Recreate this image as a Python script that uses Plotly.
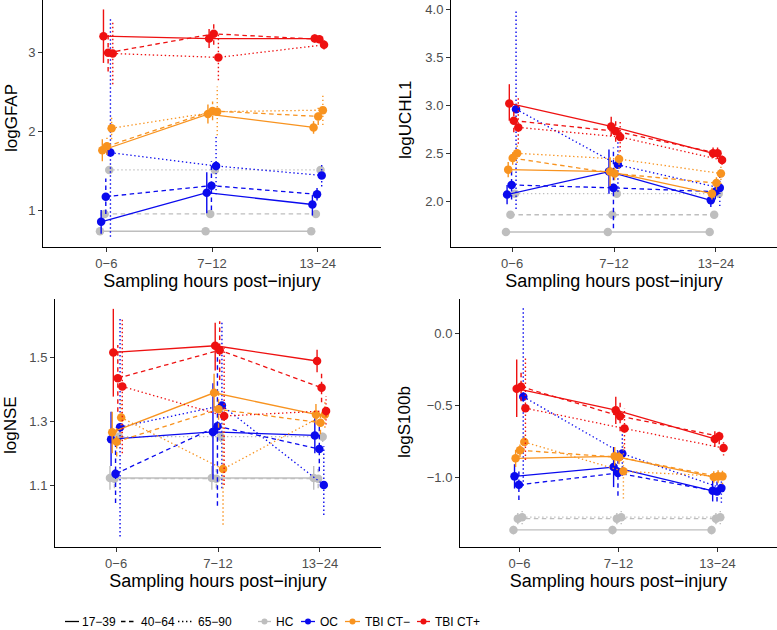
import plotly.graph_objects as go

TIMEPOINTS = ["0−6", "7−12", "13−24"]
AGE_GROUPS = ["17−39", "40−64", "65−90"]
GROUPS = ["HC", "OC", "TBI CT−", "TBI CT+"]
BIOMARKERS = ["logGFAP", "logUCHL1", "logNSE", "logS100b"]

# values indexed [group][age group][time point]
GFAP_MEAN = [
    [[0.73, 0.73, 0.73], [0.95, 0.95, 0.95], [1.51, 1.51, 1.51]],
    [[0.85, 1.22, 1.07], [1.17, 1.31, 1.20], [1.73, 1.56, 1.44]],
    [[1.76, 2.22, 2.05], [1.81, 2.26, 2.19], [2.04, 2.25, 2.27]],
    [[3.21, 3.18, 3.18], [3.00, 3.24, 3.17], [2.99, 2.94, 3.10]],
]
GFAP_LO = [
    [[0.69, 0.69, 0.69], [0.90, 0.90, 0.90], [1.48, 1.48, 1.48]],
    [[0.70, 0.96, 0.93], [0.95, 1.00, 1.12], [0.66, 1.20, 1.30]],
    [[1.62, 2.10, 1.97], [1.70, 2.14, 2.08], [1.90, 1.95, 2.08]],
    [[2.87, 3.06, 3.13], [2.76, 3.10, 3.12], [2.60, 2.65, 3.04]],
]
GFAP_HI = [
    [[0.77, 0.77, 0.77], [1.00, 1.00, 1.00], [1.54, 1.54, 1.54]],
    [[1.00, 1.48, 1.19], [1.40, 1.62, 1.30], [3.44, 1.95, 1.60]],
    [[1.90, 2.34, 2.13], [1.92, 2.38, 2.30], [2.18, 2.57, 2.46]],
    [[3.55, 3.30, 3.23], [3.24, 3.38, 3.22], [3.38, 3.23, 3.16]],
]

UCHL1_MEAN = [
    [[1.68, 1.68, 1.68], [1.86, 1.86, 1.86], [2.08, 2.08, 2.08]],
    [[2.07, 2.31, 2.01], [2.17, 2.14, 2.10], [2.96, 2.38, 2.14]],
    [[2.33, 2.31, 2.08], [2.45, 2.29, 2.19], [2.50, 2.44, 2.29]],
    [[3.02, 2.78, 2.50], [2.84, 2.73, 2.50], [2.77, 2.67, 2.43]],
]
UCHL1_LO = [
    [[1.65, 1.65, 1.65], [1.82, 1.82, 1.82], [2.05, 2.05, 2.05]],
    [[1.97, 2.08, 1.94], [2.02, 1.72, 2.02], [1.92, 2.10, 1.95]],
    [[2.25, 2.16, 2.02], [2.38, 2.22, 2.12], [2.40, 2.34, 2.18]],
    [[2.84, 2.68, 2.45], [2.72, 2.62, 2.44], [2.60, 2.52, 2.38]],
]
UCHL1_HI = [
    [[1.71, 1.71, 1.71], [1.90, 1.90, 1.90], [2.11, 2.11, 2.11]],
    [[2.17, 2.54, 2.08], [2.32, 2.56, 2.18], [3.99, 2.66, 2.33]],
    [[2.41, 2.46, 2.14], [2.52, 2.36, 2.26], [2.60, 2.54, 2.40]],
    [[3.22, 2.88, 2.56], [2.96, 2.86, 2.56], [3.10, 2.84, 2.48]],
]

NSE_MEAN = [
    [[1.122, 1.122, 1.122], [1.120, 1.120, 1.120], [1.252, 1.252, 1.252]],
    [[1.244, 1.267, 1.256], [1.135, 1.285, 1.213], [1.282, 1.350, 1.100]],
    [[1.266, 1.390, 1.322], [1.236, 1.338, 1.296], [1.312, 1.150, 1.322]],
    [[1.517, 1.538, 1.490], [1.436, 1.524, 1.406], [1.410, 1.317, 1.333]],
]
NSE_LO = [
    [[1.085, 1.085, 1.085], [1.090, 1.090, 1.090], [1.235, 1.235, 1.235]],
    [[1.160, 1.117, 1.200], [1.043, 1.035, 1.143], [0.938, 1.090, 1.006]],
    [[1.200, 1.330, 1.290], [1.190, 1.280, 1.260], [1.250, 0.975, 1.280]],
    [[1.378, 1.460, 1.455], [1.330, 1.430, 1.360], [1.200, 1.100, 1.290]],
]
NSE_HI = [
    [[1.160, 1.160, 1.160], [1.150, 1.150, 1.150], [1.270, 1.270, 1.270]],
    [[1.330, 1.420, 1.310], [1.230, 1.535, 1.283], [1.627, 1.612, 1.222]],
    [[1.330, 1.450, 1.355], [1.280, 1.400, 1.330], [1.370, 1.320, 1.360]],
    [[1.654, 1.610, 1.525], [1.540, 1.615, 1.450], [1.620, 1.530, 1.380]],
]

S100B_MEAN = [
    [[-1.369, -1.369, -1.369], [-1.290, -1.290, -1.290], [-1.280, -1.280, -1.280]],
    [[-0.995, -0.930, -1.096], [-1.054, -0.972, -1.100], [-0.439, -0.836, -1.077]],
    [[-0.869, -0.855, -1.000], [-0.813, -0.862, -0.995], [-0.755, -0.960, -0.995]],
    [[-0.383, -0.533, -0.734], [-0.369, -0.575, -0.715], [-0.519, -0.661, -0.797]],
]
S100B_LO = [
    [[-1.40, -1.40, -1.40], [-1.33, -1.33, -1.33], [-1.33, -1.33, -1.33]],
    [[-1.08, -1.07, -1.17], [-1.16, -1.13, -1.17], [-1.06, -0.99, -1.18]],
    [[-0.93, -0.92, -1.04], [-0.86, -0.91, -1.04], [-0.81, -1.15, -1.05]],
    [[-0.58, -0.63, -0.79], [-0.47, -0.68, -0.77], [-0.88, -0.80, -0.85]],
]
S100B_HI = [
    [[-1.34, -1.34, -1.34], [-1.25, -1.25, -1.25], [-1.23, -1.23, -1.23]],
    [[-0.91, -0.79, -1.02], [-0.95, -0.82, -1.03], [0.185, -0.69, -0.98]],
    [[-0.81, -0.79, -0.96], [-0.77, -0.81, -0.95], [-0.70, -0.77, -0.94]],
    [[-0.18, -0.44, -0.68], [-0.27, -0.47, -0.66], [-0.16, -0.52, -0.74]],
]

COLORS = ["#BEBEBE", "#0A0AEE", "#F8931F", "#EE1111"]
DASHES = ["solid", "4.5px,3.5px", "1.4px,2.6px"]
DODGE = 0.011

PANELS = [
    (GFAP_MEAN, GFAP_LO, GFAP_HI),
    (UCHL1_MEAN, UCHL1_LO, UCHL1_HI),
    (NSE_MEAN, NSE_LO, NSE_HI),
    (S100B_MEAN, S100B_LO, S100B_HI),
]

W, H = 777, 630
# panel pixel boxes: left, right, top, bottom
BOXES = [(43, 381, 0, 247), (451, 777, 0, 247), (55, 381, 299, 547), (460, 777, 299, 547)]
YRANGES = [[0.53, 3.67], [1.524, 4.097], [0.905, 1.685], [-1.488, 0.243]]
YTICKS = [[1, 2, 3], [2.0, 2.5, 3.0, 3.5, 4.0], [1.1, 1.3, 1.5], [-1.0, -0.5, 0.0]]
YFMT = ["d", ".1f", ".1f", ".1f"]
YTITLE_POS = [(11, 118), (405, 120), (10, 425), (405, 422)]

fig = go.Figure()
for p, (mean, lo, hi) in enumerate(PANELS):
    xa = "x" if p == 0 else f"x{p+1}"
    ya = "y" if p == 0 else f"y{p+1}"
    for g in range(len(GROUPS)):
        for a in range(len(AGE_GROUPS)):
            off = (a * 4 + g - 5.5) * DODGE
            xs = [t + 1 + off for t in range(len(TIMEPOINTS))]
            ex, ey = [], []
            for t in range(len(TIMEPOINTS)):
                ex += [xs[t], xs[t], None]
                ey += [lo[g][a][t], hi[g][a][t], None]
            fig.add_trace(go.Scatter(
                x=ex, y=ey, mode="lines", xaxis=xa, yaxis=ya,
                line=dict(color=COLORS[g], width=1.4, dash=DASHES[a]),
                showlegend=False, hoverinfo="skip"))
            fig.add_trace(go.Scatter(
                x=xs, y=mean[g][a], mode="lines+markers", xaxis=xa, yaxis=ya,
                name=f"{GROUPS[g]} {AGE_GROUPS[a]}",
                line=dict(color=COLORS[g], width=1.3, dash=DASHES[a]),
                marker=dict(color=COLORS[g], size=8.5),
                showlegend=False))

axis_common = dict(showgrid=False, zeroline=False, showline=True, linecolor="black",
                   linewidth=1, ticks="outside", ticklen=4, tickcolor="#333333",
                   tickwidth=1, tickfont=dict(family="Liberation Sans, Arial", size=13, color="#4D4D4D"))
layout = dict(width=W, height=H, margin=dict(l=0, r=0, t=0, b=0),
              plot_bgcolor="white", paper_bgcolor="white", showlegend=False)
annotations = []
for p, (l, r, t, b) in enumerate(BOXES):
    sx = "" if p == 0 else str(p + 1)
    layout["xaxis" + sx] = dict(
        axis_common, domain=[l / W, min(r / W, 1.0)], range=[0.4, 3.6],
        tickvals=[1, 2, 3], ticktext=TIMEPOINTS, anchor="y" + sx,
        title=dict(text="Sampling hours post−injury", standoff=2,
                   font=dict(family="Liberation Sans, Arial", size=18, color="black")))
    layout["yaxis" + sx] = dict(
        axis_common, domain=[1 - b / H, 1 - t / H], range=YRANGES[p],
        tickvals=YTICKS[p], tickformat=YFMT[p], anchor="x" + sx)
    tx, ty = YTITLE_POS[p]
    annotations.append(dict(text=BIOMARKERS[p], textangle=-90, xref="paper", yref="paper",
                            x=tx / W, y=1 - ty / H, xanchor="center", yanchor="middle",
                            showarrow=False,
                            font=dict(family="Liberation Sans, Arial", size=17, color="black")))

# legend drawn at the bottom
LEG_Y = 621.5
legfont = dict(family="Liberation Sans, Arial", size=12, color="black")
shapes = []
age_keys = [(65, 79, 80), (121, 135, 139), (178, 192, 196)]
for a, (x0, x1, tx) in enumerate(age_keys):
    shapes.append(dict(type="line", xref="paper", yref="paper", x0=x0 / W, x1=x1 / W,
                       y0=1 - LEG_Y / H, y1=1 - LEG_Y / H,
                       line=dict(color="black", width=1.3, dash=DASHES[a])))
    annotations.append(dict(text=AGE_GROUPS[a], xref="paper", yref="paper", x=tx / W,
                            y=1 - LEG_Y / H, xanchor="left", yanchor="middle",
                            showarrow=False, font=legfont))
grp_keys = [(258, 271, 274), (301, 315, 318), (345, 360, 363), (417, 430, 433)]
for g, (x0, x1, tx) in enumerate(grp_keys):
    shapes.append(dict(type="line", xref="paper", yref="paper", x0=x0 / W, x1=x1 / W,
                       y0=1 - LEG_Y / H, y1=1 - LEG_Y / H,
                       line=dict(color=COLORS[g], width=1.3)))
    shapes.append(dict(type="circle", xref="paper", yref="paper",
                       xsizemode="pixel", ysizemode="pixel",
                       xanchor=(x0 + x1) / 2 / W, yanchor=1 - LEG_Y / H,
                       x0=-3, x1=3, y0=-3, y1=3,
                       fillcolor=COLORS[g], line=dict(color=COLORS[g], width=0)))
    annotations.append(dict(text=GROUPS[g], xref="paper", yref="paper", x=tx / W,
                            y=1 - LEG_Y / H, xanchor="left", yanchor="middle",
                            showarrow=False, font=legfont))

layout["annotations"] = annotations
layout["shapes"] = shapes
fig.update_layout(**layout)
fig.write_html("out.html", config={"displayModeBar": False},
               post_script="document.body.style.margin='0';document.body.style.overflow='hidden';")
